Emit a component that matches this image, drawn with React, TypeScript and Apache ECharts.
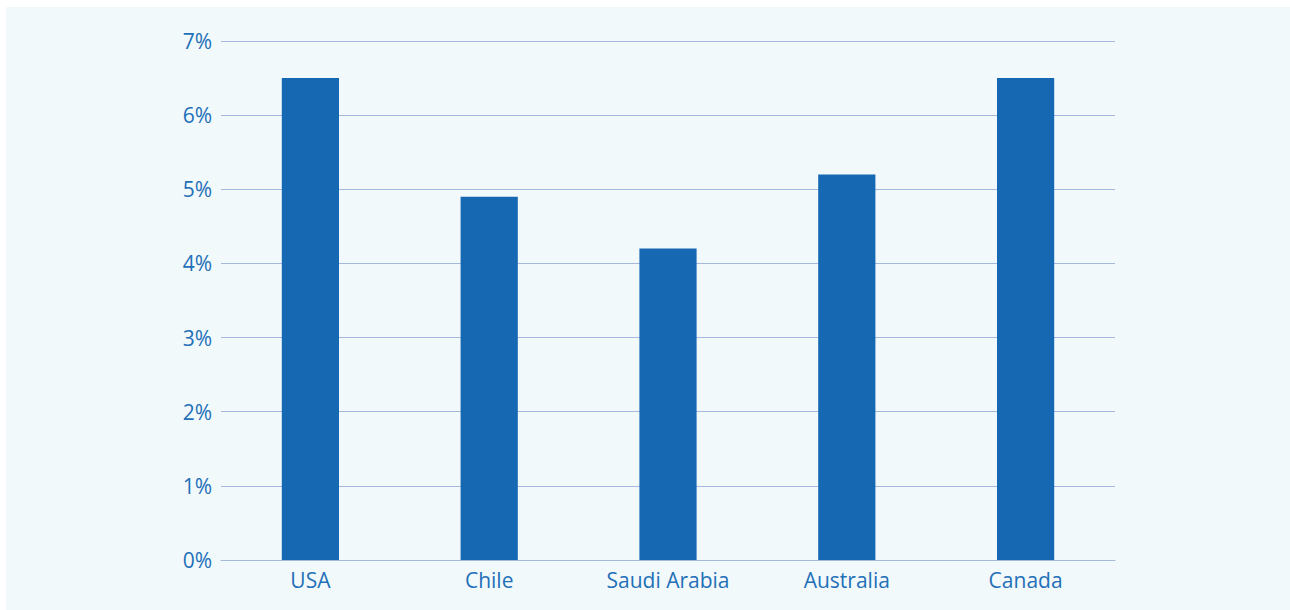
import React, { useEffect, useRef } from "react";
import * as echarts from "echarts";

const categories = ["USA", "Chile", "Saudi Arabia", "Australia", "Canada"];
const values = [6.5, 4.9, 4.2, 5.2, 6.5];

export default function App() {
  const ref = useRef<HTMLDivElement>(null);
  useEffect(() => {
    if (!ref.current) return;
    const chart = echarts.init(ref.current, null, { renderer: "svg" });
    const textColor = "#2370b8";
    chart.setOption({
      animation: false,
      backgroundColor: "#f2f9fb",
      textStyle: { fontFamily: "Open Sans" },
      grid: { left: 215, right: 175, top: 34, bottom: 50 },
      xAxis: {
        type: "category",
        data: categories,
        axisLine: { lineStyle: { color: "#a5b8dd", width: 1 } },
        axisTick: { show: false },
        axisLabel: { color: textColor, fontSize: 21, margin: 9, fontFamily: "Open Sans" },
      },
      yAxis: {
        type: "value",
        min: 0,
        max: 7,
        interval: 1,
        axisLine: { show: false },
        axisTick: { show: false },
        splitLine: { lineStyle: { color: "#a5b8dd", width: 1 } },
        axisLabel: {
          color: textColor,
          fontSize: 21,
          margin: 9,
          fontFamily: "Open Sans",
          formatter: (v: number) => `${v}%`,
        },
      },
      series: [
        {
          type: "bar",
          data: values,
          barWidth: "32%",
          itemStyle: { color: "#1668b2" },
        },
      ],
    });
    return () => chart.dispose();
  }, []);
  return (
    <div
      ref={ref}
      style={{ position: "fixed", left: 6, top: 7, width: 1284, height: 603 }}
    />
  );
}
